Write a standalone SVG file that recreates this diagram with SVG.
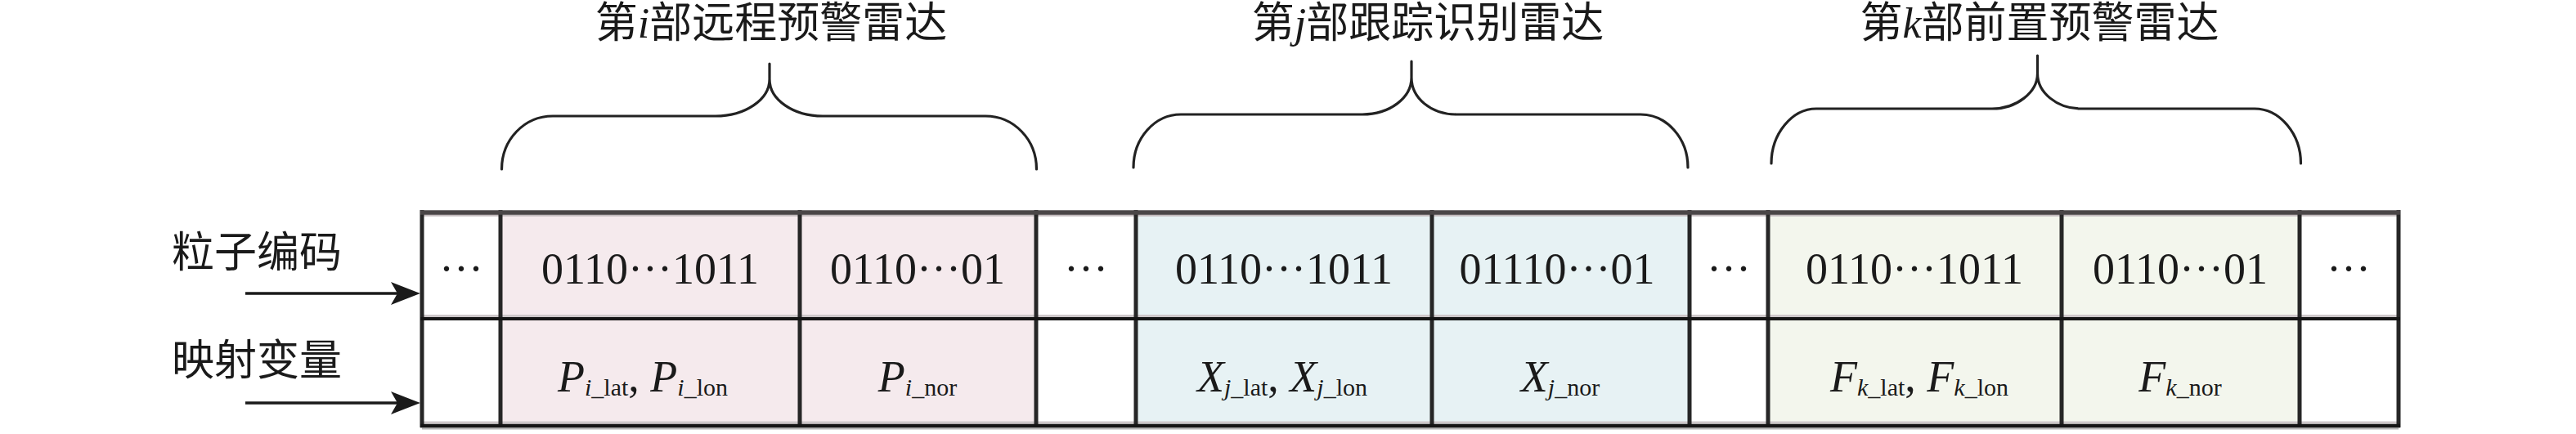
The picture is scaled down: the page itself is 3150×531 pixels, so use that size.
<svg xmlns="http://www.w3.org/2000/svg" width="3150" height="531" viewBox="0 0 3150 531">
<defs>
<style>
.cjk{font-family:"Liberation Serif","Noto Sans CJK SC",serif;font-size:52px;fill:#1a1a1a}
.it{font-family:"Liberation Serif",serif;font-style:italic}
.code{font-family:"Liberation Serif",serif;font-size:54px;fill:#1a1a1a;text-anchor:middle}
.var{font-family:"Liberation Serif",serif;font-size:54px;fill:#1a1a1a;text-anchor:middle}
.sub{font-size:30px}
.brace{fill:none;stroke:#222;stroke-width:3.2;stroke-linecap:round}
.pink{fill:#F5EAED}
.blue{fill:#E7F2F4}
.green{fill:#F3F6ED}
.white{fill:#FFFFFF}
.div{stroke:#262626;stroke-width:5}
.conn{stroke:#1a1a1a;stroke-width:3.5;fill:none}
</style>
<marker id="arrow" markerUnits="userSpaceOnUse" markerWidth="38" markerHeight="30" refX="22" refY="14" orient="auto">
<path d="M0,0 L36,14 L0,28 L8,14 Z" fill="#1a1a1a"/>
</marker>
</defs>
<rect width="3150" height="531" fill="#FFFFFF"/>

<g id="labels">
<text class="cjk" x="210" y="327">粒子编码</text>
<text class="cjk" x="210" y="459">映射变量</text>
</g>

<g id="connectors">
<line class="conn" x1="300" y1="359" x2="500" y2="359" marker-end="url(#arrow)"/>
<line class="conn" x1="300" y1="493" x2="500" y2="493" marker-end="url(#arrow)"/>
</g>

<g id="cell-0">
<rect class="white" x="516" y="258" width="96" height="264"/>
<text class="code" x="564" y="347">···</text>
</g>
<g id="cell-1">
<rect class="pink" x="612" y="258" width="366" height="264"/>
<text class="code" x="795" y="347">0110···1011</text>
<text class="var" x="786" y="479"><tspan class="it">P</tspan><tspan class="it sub" dy="5">i</tspan><tspan class="sub">_lat</tspan><tspan dy="-5">, </tspan><tspan class="it">P</tspan><tspan class="it sub" dy="5">i</tspan><tspan class="sub">_lon</tspan></text>
</g>
<g id="cell-2">
<rect class="pink" x="978" y="258" width="289" height="264"/>
<text class="code" x="1122" y="347">0110···01</text>
<text class="var" x="1122" y="479"><tspan class="it">P</tspan><tspan class="it sub" dy="5">i</tspan><tspan class="sub">_nor</tspan></text>
</g>
<g id="cell-3">
<rect class="white" x="1267" y="258" width="122" height="264"/>
<text class="code" x="1328" y="347">···</text>
</g>
<g id="cell-4">
<rect class="blue" x="1389" y="258" width="362" height="264"/>
<text class="code" x="1570" y="347">0110···1011</text>
<text class="var" x="1568" y="479"><tspan class="it">X</tspan><tspan class="it sub" dy="5">j</tspan><tspan class="sub">_lat</tspan><tspan dy="-5">, </tspan><tspan class="it">X</tspan><tspan class="it sub" dy="5">j</tspan><tspan class="sub">_lon</tspan></text>
</g>
<g id="cell-5">
<rect class="blue" x="1751" y="258" width="315" height="264"/>
<text class="code" x="1904" y="347">01110···01</text>
<text class="var" x="1908" y="479"><tspan class="it">X</tspan><tspan class="it sub" dy="5">j</tspan><tspan class="sub">_nor</tspan></text>
</g>
<g id="cell-6">
<rect class="white" x="2066" y="258" width="96" height="264"/>
<text class="code" x="2114" y="347">···</text>
</g>
<g id="cell-7">
<rect class="green" x="2162" y="258" width="359" height="264"/>
<text class="code" x="2341" y="347">0110···1011</text>
<text class="var" x="2347" y="479"><tspan class="it">F</tspan><tspan class="it sub" dy="5">k</tspan><tspan class="sub">_lat</tspan><tspan dy="-5">, </tspan><tspan class="it">F</tspan><tspan class="it sub" dy="5">k</tspan><tspan class="sub">_lon</tspan></text>
</g>
<g id="cell-8">
<rect class="green" x="2521" y="258" width="291" height="264"/>
<text class="code" x="2666" y="347">0110···01</text>
<text class="var" x="2666" y="479"><tspan class="it">F</tspan><tspan class="it sub" dy="5">k</tspan><tspan class="sub">_nor</tspan></text>
</g>
<g id="cell-9">
<rect class="white" x="2812" y="258" width="121" height="264"/>
<text class="code" x="2872" y="347">···</text>
</g>

<g id="grid">
<line x1="516" y1="263.5" x2="2933" y2="263.5" stroke="#c2babc" stroke-width="2.5"/>
<line x1="516" y1="386.5" x2="2933" y2="386.5" stroke="#cdc7c9" stroke-width="3"/>
<line x1="516" y1="517" x2="2933" y2="517" stroke="#cdc7c9" stroke-width="3"/>
<line x1="516" y1="524.5" x2="2933" y2="524.5" stroke="#b5b5b5" stroke-width="2"/>
<line class="div" x1="516" y1="257" x2="516" y2="523"/>
<line class="div" x1="612" y1="257" x2="612" y2="523"/>
<line class="div" x1="978" y1="257" x2="978" y2="523" stroke="#3e3a3b"/>
<line class="div" x1="1267" y1="257" x2="1267" y2="523"/>
<line class="div" x1="1389" y1="257" x2="1389" y2="523"/>
<line class="div" x1="1751" y1="257" x2="1751" y2="523" stroke="#3e3a3b"/>
<line class="div" x1="2066" y1="257" x2="2066" y2="523"/>
<line class="div" x1="2162" y1="257" x2="2162" y2="523"/>
<line class="div" x1="2521" y1="257" x2="2521" y2="523"/>
<line class="div" x1="2812" y1="257" x2="2812" y2="523" stroke="#3e3a3b"/>
<line class="div" x1="2933" y1="257" x2="2933" y2="523" stroke="#3e3a3b"/>
<line x1="514" y1="260" x2="2935" y2="260" stroke="#4a4647" stroke-width="5.5"/>
<line x1="514" y1="390" x2="2935" y2="390" stroke="#151515" stroke-width="4"/>
<line x1="514" y1="521" x2="2935" y2="521" stroke="#151515" stroke-width="4.5"/>
</g>

<g id="brace-i">
<path class="brace" d="M613.5,207 C613.5,171 641,142 676,142 L875,142 C911,142 941,122 941,97 L941,78 M941,97 C941,122 970,142 1006,142 L1205,142 C1240,142 1267.5,171 1267.5,207"/>
<text class="cjk" x="943" y="46" text-anchor="middle">第<tspan class="it">i</tspan>部远程预警雷达</text>
</g>
<g id="brace-j">
<path class="brace" d="M1386,205 C1386,169 1412,140 1444,140 L1666,140 C1699,140 1726,120 1726,95 L1726,75 M1726,95 C1726,120 1750,140 1781,140 L2006,140 C2038,140 2064,169 2064,205"/>
<text class="cjk" x="1746" y="46" text-anchor="middle">第<tspan class="it">j</tspan>部跟踪识别雷达</text>
</g>
<g id="brace-k">
<path class="brace" d="M2166,200 C2166,164 2191,133 2221,133 L2436,133 C2466,133 2491.5,113 2491.5,90 L2491.5,68 M2491.5,90 C2491.5,113 2515,133 2545,133 L2757,133 C2788,133 2813.5,164 2813.5,200"/>
<text class="cjk" x="2494" y="46" text-anchor="middle">第<tspan class="it">k</tspan>部前置预警雷达</text>
</g>
</svg>
